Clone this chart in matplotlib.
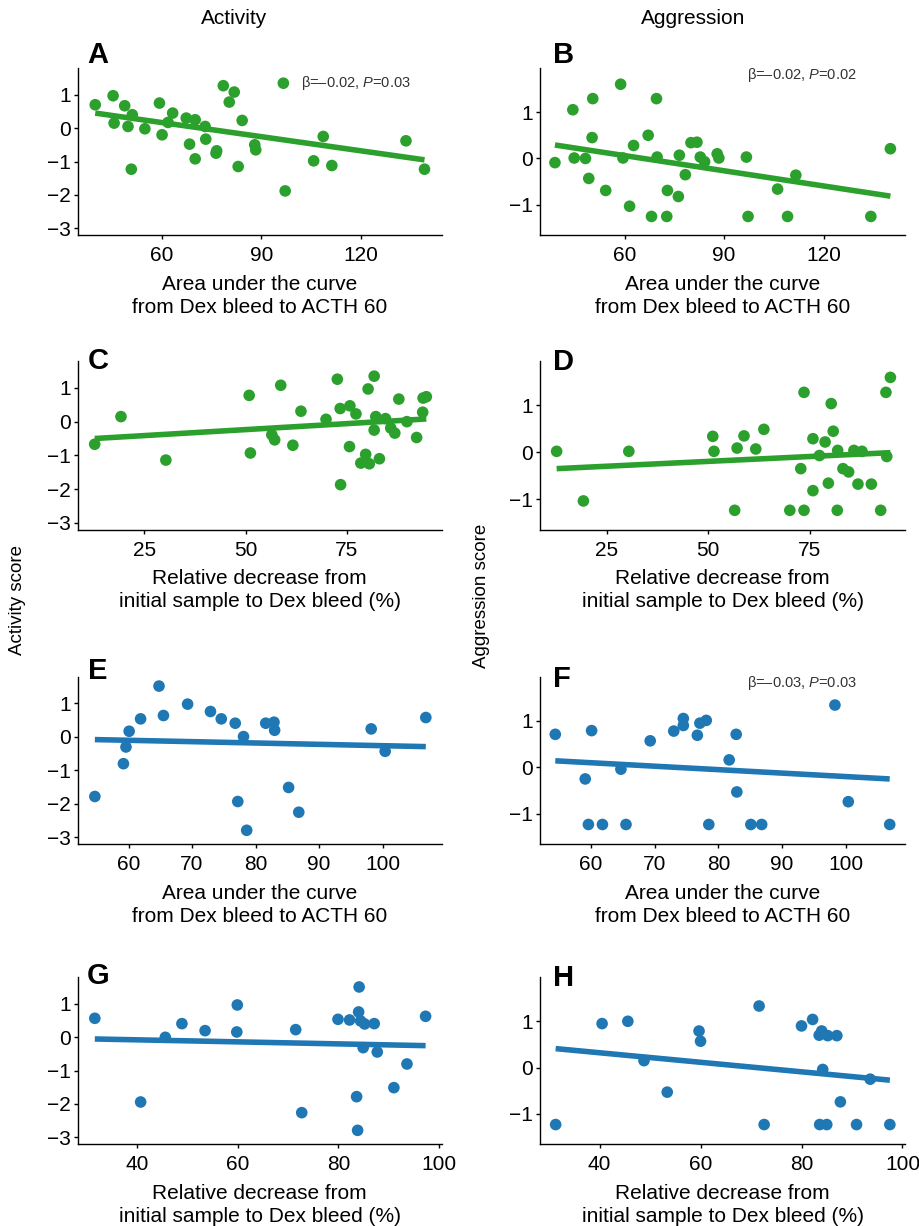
import matplotlib
matplotlib.use("Agg")
import matplotlib.pyplot as plt
import numpy as np

plt.rcParams["font.family"] = ["Liberation Sans", "DejaVu Sans"]
plt.rcParams["mathtext.fontset"] = "custom"
plt.rcParams["mathtext.rm"] = "Liberation Sans"
plt.rcParams["mathtext.it"] = "Liberation Sans:italic"

GREEN = "#2ca02c"
BLUE = "#1f77b4"

# --- data ---
# A: activity vs AUC
a_x = [39.8, 45.2, 45.5, 48.7, 51.0, 49.7, 50.7, 54.8, 59.2, 60.0, 61.8, 63.2, 67.3, 70.0,
       73.0, 68.3, 70.0, 73.2, 76.5, 76.3, 78.5, 81.8, 80.3, 84.2, 83.0, 88.0, 88.3, 97.2,
       105.8, 108.7, 111.3, 133.7, 139.3]
a_y = [0.70, 0.97, 0.15, 0.67, 0.40, 0.05, -1.23, -0.02, 0.75, -0.20, 0.17, 0.45, 0.30, 0.25,
       0.05, -0.48, -0.92, -0.33, -0.68, -0.75, 1.27, 1.08, 0.78, 0.23, -1.15, -0.50, -0.65, -1.88,
       -0.98, -0.25, -1.12, -0.38, -1.23]
# B: aggression vs AUC
b_x = [39.0, 44.4, 44.8, 48.2, 49.2, 50.2, 50.4, 54.3, 58.8, 59.5, 61.5, 62.7, 67.1, 68.1,
       69.6, 69.8, 72.9, 72.7, 76.2, 76.5, 78.3, 80.0, 81.8, 82.8, 84.1, 87.9, 88.4, 96.7,
       97.2, 106.1, 109.1, 111.6, 134.2, 140.1]
b_y = [-0.09, 1.05, 0.01, 0.0, -0.43, 0.45, 1.29, -0.69, 1.60, 0.01, -1.03, 0.28, 0.50, -1.25,
       1.29, 0.03, -0.69, -1.25, -0.82, 0.07, -0.35, 0.34, 0.35, 0.03, -0.07, 0.10, 0.01, 0.03,
       -1.25, -0.66, -1.25, -0.36, -1.25, 0.21]
# C: activity vs relative decrease
c_x = [12.7, 19.2, 30.3, 50.9, 51.2, 56.5, 57.2, 58.7, 61.7, 63.7, 69.9, 72.7, 73.4, 73.5,
       75.7, 75.8, 77.3, 79.7, 78.5, 80.3, 80.6, 81.8, 81.8, 82.2, 83.1, 84.6, 85.9, 86.9,
       87.9, 89.9, 92.3, 93.8, 93.9, 94.7]
c_y = [-0.67, 0.15, -1.14, 0.78, -0.93, -0.39, -0.54, 1.08, -0.70, 0.31, 0.07, 1.26, 0.39, -1.87,
       -0.74, 0.47, 0.23, -0.97, -1.23, 0.97, -1.25, 1.35, -0.25, 0.15, -1.10, 0.09, -0.19, -0.34,
       0.67, 0.00, -0.47, 0.28, 0.70, 0.74]
# D: aggression vs relative decrease
d_x = [12.6, 19.2, 30.4, 51.1, 51.4, 56.5, 57.1, 58.8, 61.7, 63.7, 70.1, 72.8, 73.6, 73.6,
       75.8, 75.8, 77.4, 78.8, 79.6, 80.3, 80.8, 81.8, 81.9, 83.2, 84.6, 85.9, 86.9, 87.9,
       90.2, 92.5, 94.0, 93.8, 94.9]
d_y = [0.02, -1.04, 0.02, 0.34, 0.02, -1.24, 0.09, 0.35, 0.07, 0.49, -1.24, -0.35, 1.28, -1.24,
       0.29, -0.82, -0.07, 0.22, -0.66, 1.04, 0.45, -1.24, 0.04, -0.35, -0.42, 0.04, -0.68, 0.02,
       -0.68, -1.24, -0.09, 1.28, 1.60]
# E: activity vs AUC (second group)
e_x = [54.7, 59.2, 59.6, 60.1, 61.9, 64.8, 65.5, 69.3, 72.9, 74.6, 76.8, 77.2, 78.1, 78.6,
       81.6, 82.9, 83.0, 85.2, 86.8, 98.2, 100.4, 106.8]
e_y = [-1.78, -0.80, -0.30, 0.17, 0.54, 1.52, 0.64, 0.98, 0.76, 0.54, 0.41, -1.93, 0.01, -2.79,
       0.41, 0.44, 0.20, -1.51, -2.25, 0.24, -0.43, 0.58]
# F: aggression vs AUC (second group)
f_x = [54.4, 59.1, 59.6, 60.1, 61.8, 64.7, 65.5, 69.3, 73.0, 74.5, 74.5, 76.7, 77.1, 78.1,
       78.5, 81.7, 82.8, 82.9, 85.1, 86.8, 98.3, 100.4, 106.9]
f_y = [0.71, -0.25, -1.23, 0.79, -1.23, -0.04, -1.23, 0.57, 0.78, 1.05, 0.90, 0.69, 0.95, 1.01,
       -1.23, 0.16, 0.71, -0.53, -1.23, -1.23, 1.34, -0.74, -1.23]
# G: activity vs relative decrease (second group)
g_x = [31.6, 40.7, 45.6, 48.9, 53.5, 59.9, 59.8, 71.5, 72.7, 79.9, 82.2, 84.0, 84.1, 83.6,
       83.8, 84.4, 85.2, 84.9, 87.1, 87.7, 91.0, 93.6, 97.3]
g_y = [0.57, -1.94, 0.0, 0.41, 0.20, 0.97, 0.16, 0.23, -2.26, 0.54, 0.52, 0.76, 1.51, -1.78,
       -2.79, 0.49, 0.40, -0.31, 0.41, -0.44, -1.51, -0.80, 0.63]
# H: aggression vs relative decrease (second group)
h_x = [31.3, 40.5, 45.6, 48.8, 53.4, 59.7, 60.0, 71.6, 72.6, 80.0, 82.2, 83.5, 84.0, 85.2,
       87.0, 84.2, 83.6, 85.0, 87.7, 90.9, 93.6, 97.5]
h_y = [-1.23, 0.95, 1.0, 0.15, -0.53, 0.79, 0.57, 1.33, -1.23, 0.90, 1.04, 0.70, 0.79, 0.69,
       0.69, -0.04, -1.23, -1.23, -0.74, -1.23, -0.25, -1.23]

# regression lines as (slope, intercept)
fits = {
    "A": (-0.01407, 1.010), "B": (-0.01091, 0.716),
    "C": (0.00708, -0.590), "D": (0.00415, -0.402),
    "E": (-0.00403, 0.141), "F": (-0.00744, 0.545),
    "G": (-0.00304, 0.046), "H": (-0.01029, 0.732),
}

auc_label = "Area under the curve\nfrom Dex bleed to ACTH 60"
rel_label = "Relative decrease from\ninitial sample to Dex bleed (%)"

FIG_W, FIG_H = 919, 1226


def px_rect(left, top, right, bottom):
    return [left / FIG_W, 1 - bottom / FIG_H, (right - left) / FIG_W, (bottom - top) / FIG_H]


fig = plt.figure(figsize=(9.19, 12.26), dpi=100)

col_lr = [(77.7, 441.7), (540, 905)]
row_tb = [(68, 235), (361, 529.5), (676.7, 844), (977.3, 1144)]

panels = [
    ("A", a_x, a_y, GREEN, (34.5, 144.5), [60, 90, 120], auc_label),
    ("B", b_x, b_y, GREEN, (34.5, 144.5), [60, 90, 120], auc_label),
    ("C", c_x, c_y, GREEN, (8.5, 98.5), [25, 50, 75], rel_label),
    ("D", d_x, d_y, GREEN, (8.5, 98.5), [25, 50, 75], rel_label),
    ("E", e_x, e_y, BLUE, (52.0, 109.3), [60, 70, 80, 90, 100], auc_label),
    ("F", f_x, f_y, BLUE, (52.0, 109.3), [60, 70, 80, 90, 100], auc_label),
    ("G", g_x, g_y, BLUE, (28.2, 100.5), [40, 60, 80, 100], rel_label),
    ("H", h_x, h_y, BLUE, (28.2, 100.5), [40, 60, 80, 100], rel_label),
]

letter_pos = {"A": (87, 63), "B": (553, 63), "C": (88, 369), "D": (553, 370),
              "E": (88, 679), "F": (553, 687), "G": (87, 984), "H": (553, 986)}

axes = {}
for i, (name, x, y, color, xlim, xticks, xlabel) in enumerate(panels):
    row, col = divmod(i, 2)
    l, r = col_lr[col]
    t, b = row_tb[row]
    ax = fig.add_axes(px_rect(l, t, r, b))
    axes[name] = ax
    sc = ax.scatter(x, y, s=70, color=color, edgecolors="none", zorder=3)
    slope, icpt = fits[name]
    xs = np.array([min(x), max(x)])
    ax.plot(xs, slope * xs + icpt, color=color, lw=4.0, solid_capstyle="butt", zorder=4)
    ax.set_xlim(*xlim)
    ax.set_xticks(xticks)
    if col == 0:
        ax.set_ylim(-3.2, 1.8)
        ax.set_yticks([-3, -2, -1, 0, 1])
    else:
        ax.set_ylim(-1.65, 1.95)
        ax.set_yticks([-1, 0, 1])
    ax.spines[["top", "right"]].set_visible(False)
    for s in ("left", "bottom"):
        ax.spines[s].set_linewidth(1.0)
    ax.tick_params(labelsize=15, length=3, width=1)
    ax.tick_params(axis="x", pad=5)
    ax.tick_params(axis="y", pad=2)
    ax.set_xlabel(xlabel, fontsize=15, linespacing=1.25, labelpad=7)
    lx, ly = letter_pos[name]
    fig.text(lx / FIG_W, 1 - ly / FIG_H, name, fontsize=21, fontweight="bold",
             ha="left", va="baseline")
    if name == "A":
        ax.legend([sc], ["β=\u20130.02, $\\it{P}$=0.03"], loc="center left",
                  bbox_to_anchor=(0.545, 0.91), frameon=False, fontsize=10.5,
                  handlelength=1.0, handletextpad=0.7, borderpad=0, borderaxespad=0,
                  labelcolor="#333333")

axes["B"].text(0.567, 0.958, "β=\u20130.02, $\\it{P}$=0.02", transform=axes["B"].transAxes,
               fontsize=10.5, color="#333333", ha="left", va="center")
axes["F"].text(0.567, 0.962, "β=\u20130.03, $\\it{P}$=0.03", transform=axes["F"].transAxes,
               fontsize=10.5, color="#333333", ha="left", va="center")

# column titles and shared y labels
narrow = ["Liberation Sans Narrow", "Liberation Sans", "DejaVu Sans"]
fig.text(234 / FIG_W, 1 - 18 / FIG_H, "Activity", fontsize=15, family=narrow,
         ha="center", va="center")
fig.text(693 / FIG_W, 1 - 18 / FIG_H, "Aggression", fontsize=15, family=narrow,
         ha="center", va="center")
fig.text(18 / FIG_W, 1 - 600 / FIG_H, "Activity score", fontsize=13.5, rotation=90,
         ha="center", va="center")
fig.text(481 / FIG_W, 1 - 596 / FIG_H, "Aggression score", fontsize=13.5, rotation=90,
         ha="center", va="center")

fig.savefig("out.png", dpi=100)
